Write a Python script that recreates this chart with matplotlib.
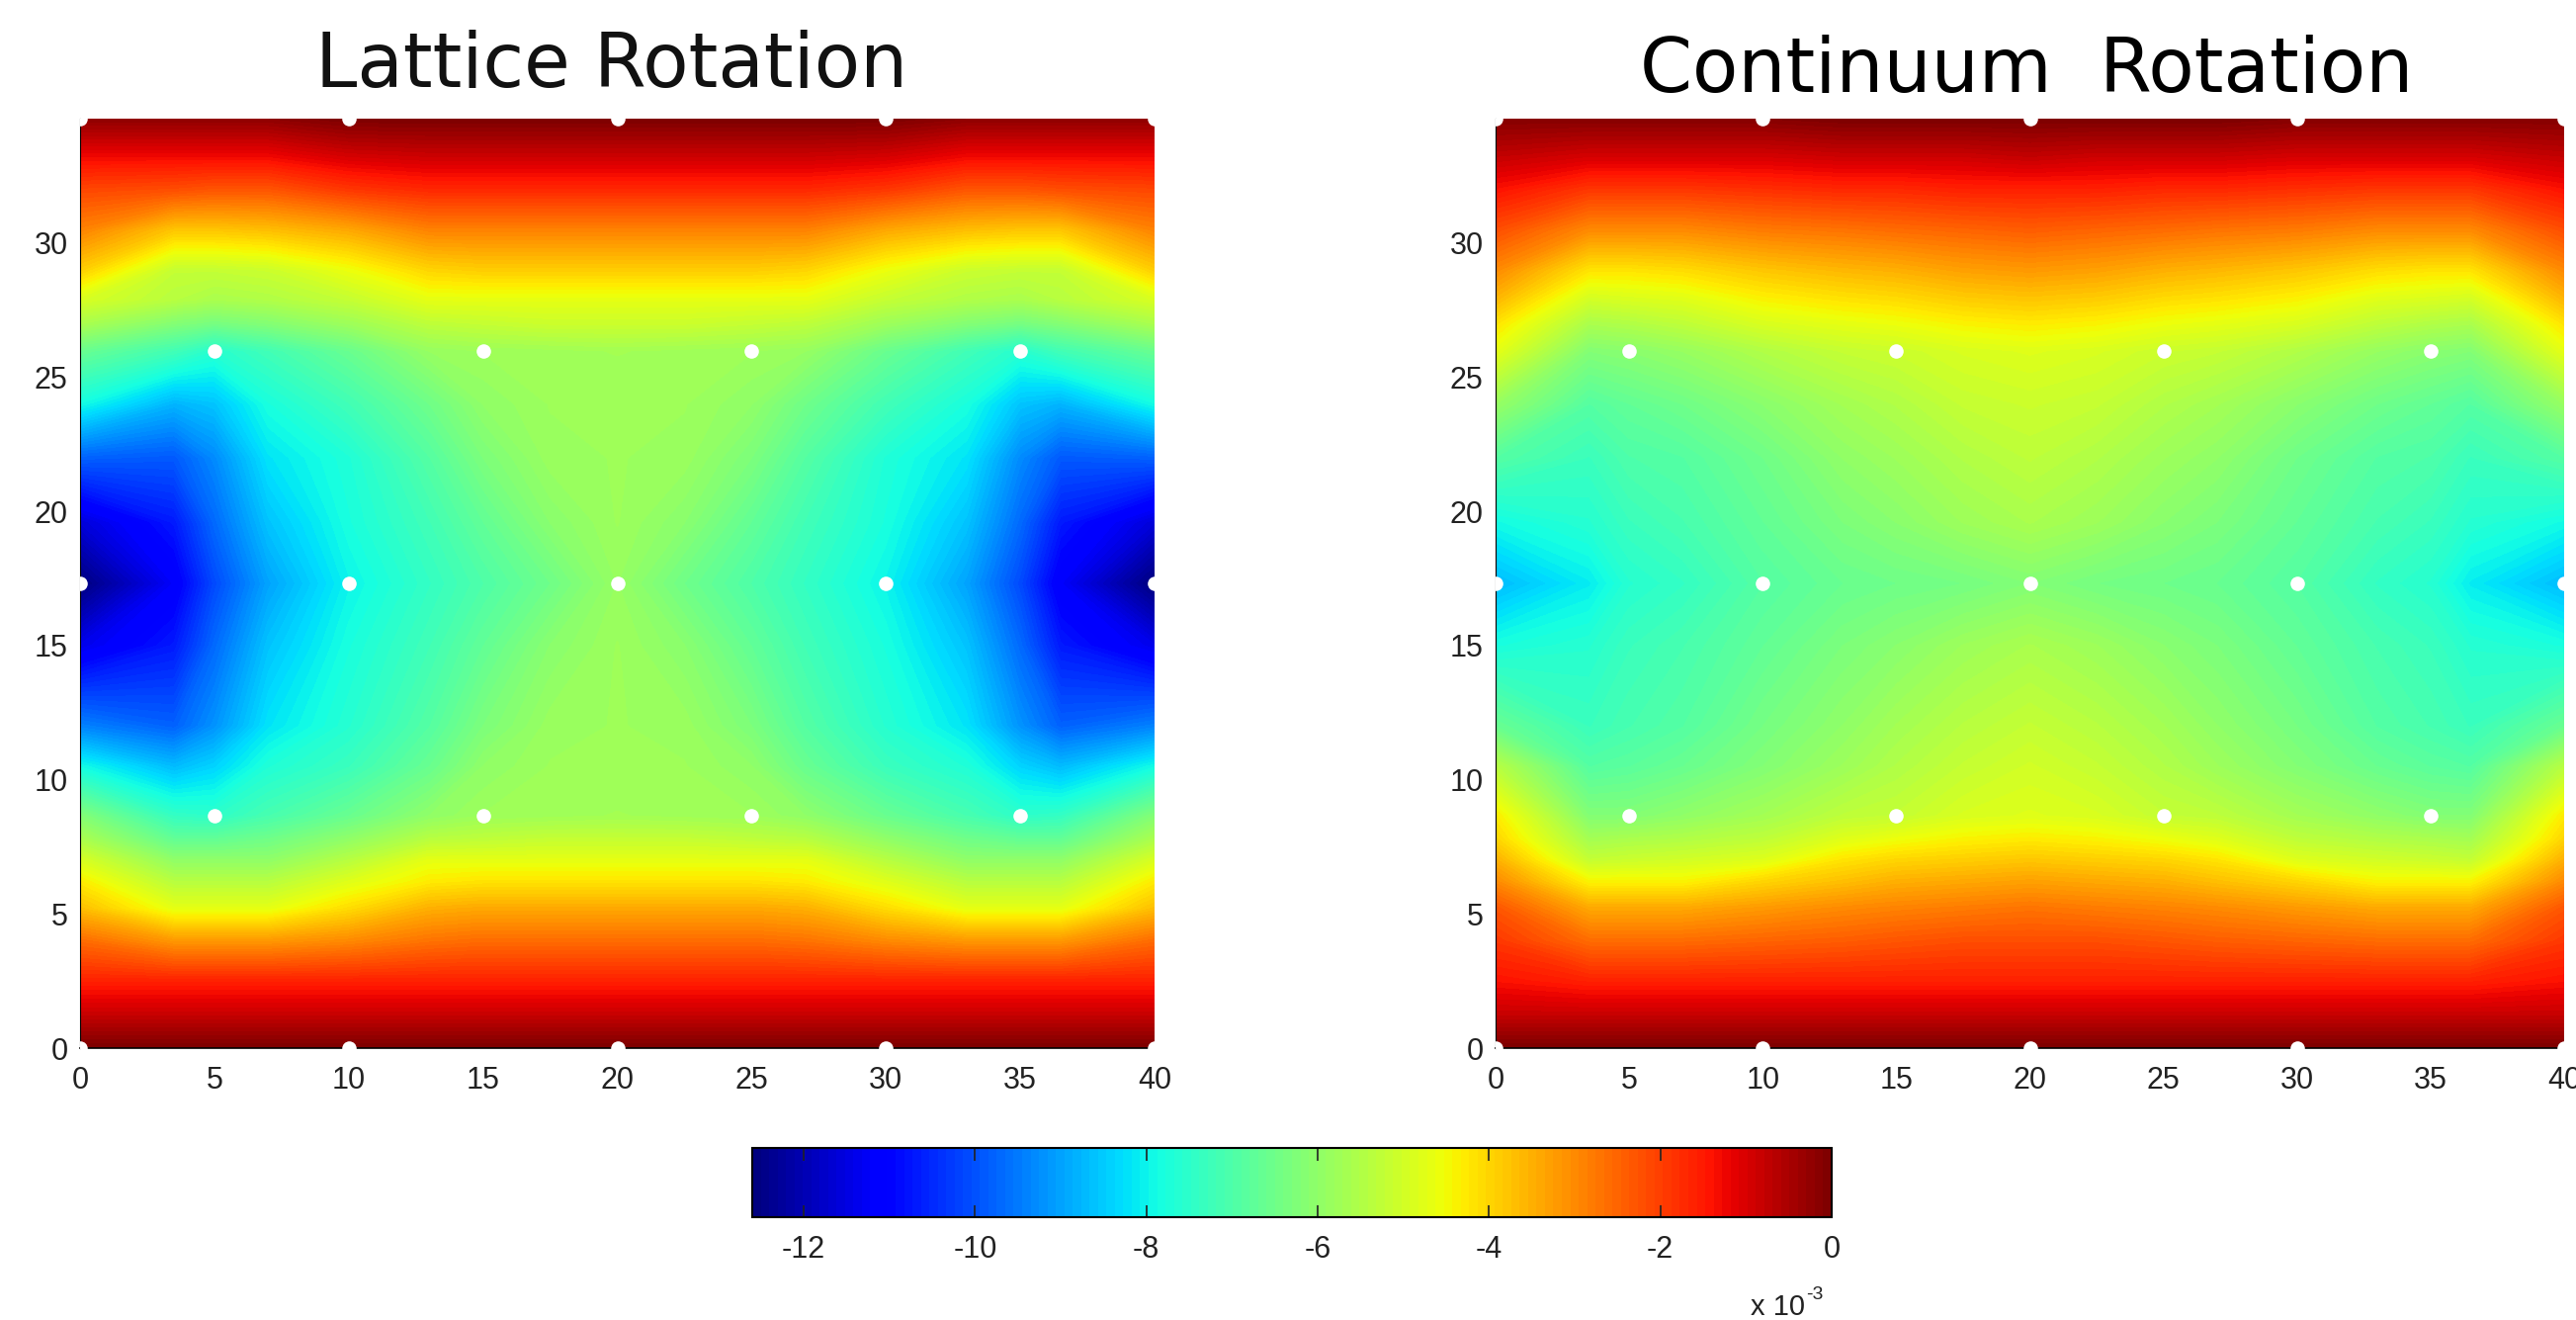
import numpy as np
import matplotlib
matplotlib.use('Agg')
import matplotlib.pyplot as plt

plt.rcParams['font.family'] = ['Liberation Sans', 'DejaVu Sans']
plt.rcParams['axes.unicode_minus'] = False

# rejilla (la mitad derecha es el espejo de la izquierda)
y_rows = [0, 1.2, 2.5, 4, 5.2, 6.2, 7, 7.8, 8.66, 10.5, 12, 15, 17.32, 19.6, 22, 24, 25.98, 27, 27.9, 29, 30.5, 32, 33.2, 34.64]
x_cols = [0, 3.5, 5, 7, 10, 13, 15, 17.5, 20]

# Lattice Rotation, una lista por columna
lat_0 = [0, -0.8, -1.6, -2.6, -3.7, -4.3, -4.9, -5.6, -6.2, -7.9, -9.4, -11.4, -12.6, -11.6, -9.8, -7.9, -6.6, -5.6, -4.9, -3.9, -2.9, -2.1, -1.3, -0.2]
lat_35 = [0, -0.8, -1.6, -3.2, -4.7, -5.4, -6.0, -6.7, -7.4, -8.7, -9.8, -10.7, -11.2, -10.7, -9.9, -8.8, -7.2, -6.2, -5.4, -5.2, -3.8, -2.2, -1.3, -0.2]
lat_5 = [0, -0.8, -1.6, -3.2, -4.7, -5.4, -6.0, -6.7, -7.5, -8.4, -9.2, -9.7, -10.1, -9.7, -9.3, -8.6, -7.6, -6.4, -5.6, -5.2, -3.8, -2.3, -1.3, -0.2]
lat_7 = [0, -0.8, -1.6, -3.2, -4.7, -5.4, -6.0, -6.5, -7.1, -7.7, -8.2, -8.6, -9.0, -8.6, -8.2, -7.8, -7.2, -6.2, -5.5, -5.1, -3.7, -2.3, -1.3, -0.2]
lat_10 = [0, -0.8, -1.6, -3.0, -4.1, -4.8, -5.4, -6.0, -6.6, -7.3, -7.6, -7.8, -8.0, -7.8, -7.7, -7.2, -6.6, -5.8, -5.2, -4.6, -3.4, -1.9, -1.0, 0]
lat_13 = [0, -0.8, -1.6, -2.7, -3.5, -4.3, -4.7, -5.4, -6.0, -6.6, -6.9, -7.2, -7.4, -7.2, -6.9, -6.5, -5.9, -5.3, -4.7, -4.0, -2.9, -1.7, -0.9, 0]
lat_15 = [0, -0.8, -1.6, -2.6, -3.4, -4.2, -4.7, -5.3, -5.8, -6.0, -6.3, -6.7, -7.0, -6.7, -6.3, -6.0, -5.8, -5.2, -4.7, -3.9, -2.9, -1.7, -0.9, 0]
lat_175 = [0, -0.8, -1.6, -2.6, -3.4, -4.2, -4.7, -5.2, -5.75, -5.8, -5.85, -6.1, -6.5, -6.1, -5.85, -5.8, -5.75, -5.1, -4.7, -3.9, -2.9, -1.7, -0.9, 0]
lat_20 = [0, -0.8, -1.6, -2.6, -3.4, -4.2, -4.7, -5.2, -5.7, -5.8, -5.8, -5.8, -5.9, -5.8, -5.8, -5.8, -5.7, -5.1, -4.7, -3.9, -2.9, -1.7, -0.9, 0]

# Continuum Rotation
con_0 = [0, -0.8, -1.4, -1.9, -2.3, -3.0, -3.5, -4.0, -4.3, -5.4, -6.6, -7.8, -8.7, -7.9, -6.9, -5.9, -4.7, -4.2, -3.6, -3.0, -2.2, -1.4, -0.8, -0.1]
con_35 = [0, -0.8, -1.6, -2.6, -3.4, -4.4, -5.2, -5.7, -6.2, -6.9, -7.3, -7.6, -8.1, -7.6, -7.3, -6.9, -6.2, -5.6, -5.0, -4.2, -3.0, -1.9, -1.0, -0.1]
con_5 = [0, -0.8, -1.6, -2.6, -3.4, -4.4, -5.1, -5.6, -6.2, -6.8, -7.1, -7.3, -7.6, -7.3, -7.0, -6.7, -6.1, -5.5, -4.9, -4.2, -3.0, -1.9, -1.0, -0.1]
con_7 = [0, -0.8, -1.6, -2.6, -3.4, -4.4, -5.0, -5.5, -6.0, -6.6, -6.9, -7.1, -7.4, -7.1, -6.9, -6.5, -5.9, -5.3, -4.8, -4.1, -3.0, -1.9, -1.0, -0.1]
con_10 = [0, -0.8, -1.6, -2.5, -3.2, -4.0, -4.8, -5.3, -5.7, -6.2, -6.4, -6.7, -6.9, -6.7, -6.5, -6.1, -5.5, -4.9, -4.4, -3.8, -2.8, -1.8, -1.0, -0.1]
con_13 = [0, -0.8, -1.6, -2.4, -3.0, -3.7, -4.2, -4.8, -5.3, -5.8, -6.0, -6.3, -6.6, -6.3, -6.0, -5.7, -5.2, -4.7, -4.2, -3.6, -2.7, -1.7, -0.9, 0]
con_15 = [0, -0.8, -1.6, -2.3, -2.9, -3.5, -4.0, -4.6, -5.2, -5.5, -5.7, -6.1, -6.5, -6.1, -5.8, -5.5, -5.1, -4.6, -4.1, -3.5, -2.6, -1.7, -0.9, 0]
con_175 = [0, -0.8, -1.6, -2.2, -2.8, -3.4, -3.9, -4.4, -4.9, -5.2, -5.4, -5.8, -6.4, -5.8, -5.5, -5.2, -4.9, -4.4, -3.9, -3.3, -2.5, -1.6, -0.9, 0]
con_20 = [0, -0.8, -1.6, -2.2, -2.7, -3.3, -3.8, -4.3, -4.8, -5.0, -5.2, -5.6, -6.2, -5.6, -5.3, -5.1, -4.8, -4.3, -3.8, -3.2, -2.4, -1.6, -0.8, 0]

# nodos de la malla (puntos blancos)
node_x = [0, 10, 20, 30, 40, 5, 15, 25, 35, 0, 10, 20, 30, 40, 5, 15, 25, 35, 0, 10, 20, 30, 40]
node_y = [0, 0, 0, 0, 0, 8.66, 8.66, 8.66, 8.66, 17.32, 17.32, 17.32, 17.32, 17.32,
          25.98, 25.98, 25.98, 25.98, 34.64, 34.64, 34.64, 34.64, 34.64]

x_ticks = [0, 5, 10, 15, 20, 25, 30, 35, 40]
y_ticks = [0, 5, 10, 15, 20, 25, 30]
cbar_ticks = [-12, -10, -8, -6, -4, -2, 0]
vmin = -12.6
vmax = 0

W = 2606
H = 1335


def full_field(cols):
    half = np.column_stack(cols)
    return np.hstack([half, half[:, -2::-1]])


xs = np.array(x_cols + [40 - v for v in x_cols[-2::-1]])
lattice = full_field([lat_0, lat_35, lat_5, lat_7, lat_10, lat_13, lat_15, lat_175, lat_20])
continuum = full_field([con_0, con_35, con_5, con_7, con_10, con_13, con_15, con_175, con_20])

levels = np.linspace(vmin, vmax, 129)
cmap = plt.get_cmap('jet', 128)

fig = plt.figure(figsize=(W / 100, H / 100), dpi=100)


def panel(x0, x1, z):
    ax = fig.add_axes([x0 / W, 1 - 1060 / H, (x1 - x0) / W, 940 / H])
    cs = ax.contourf(xs, y_rows, z, levels=levels, cmap=cmap, vmin=vmin, vmax=vmax)
    ax.scatter(node_x, node_y, s=110, c='white', linewidths=0, zorder=3)
    ax.set_xlim(0, 40)
    ax.set_ylim(0, 34.64)
    ax.set_xticks(x_ticks)
    ax.set_yticks(y_ticks)
    ax.tick_params(length=0, labelsize=22, labelcolor='#222222')
    ax.tick_params(axis='x', pad=13)
    ax.tick_params(axis='y', pad=9)
    ax.spines['top'].set_visible(False)
    ax.spines['right'].set_visible(False)
    ax.spines['left'].set_linewidth(0.8)
    ax.spines['bottom'].set_linewidth(1.2)
    return cs


cs = panel(81, 1168, lattice)
panel(1513, 2594, continuum)

fig.text(619 / W, 1 - 88 / H, 'Lattice Rotation', family='DejaVu Sans', fontsize=54.6,
         ha='center', va='baseline', color='#111111')
fig.text(2050 / W, 1 - 93 / H, 'Continuum  Rotation', family='DejaVu Sans', fontsize=54.6,
         ha='center', va='baseline', color='black')

cax = fig.add_axes([761 / W, 1 - 1231 / H, (1853 - 761) / W, 70 / H])
cb = fig.colorbar(cs, cax=cax, orientation='horizontal', ticks=cbar_ticks)
cb.ax.set_xticklabels([str(t) for t in cbar_ticks])
cb.ax.tick_params(axis='x', direction='in', length=9, width=1.2, top=True, bottom=True,
                  labelsize=22, labelcolor='#222222', pad=13, color='#222222')
cb.outline.set_linewidth(1.5)
cb.ax.minorticks_off()

fig.text(1826 / W, 1 - 1330 / H, 'x 10', fontsize=21, ha='right', va='baseline', color='#222222')
fig.text(1827 / W, 1 - 1314 / H, '-3', fontsize=14, ha='left', va='baseline', color='#222222')

fig.savefig('out.png', dpi=100)
